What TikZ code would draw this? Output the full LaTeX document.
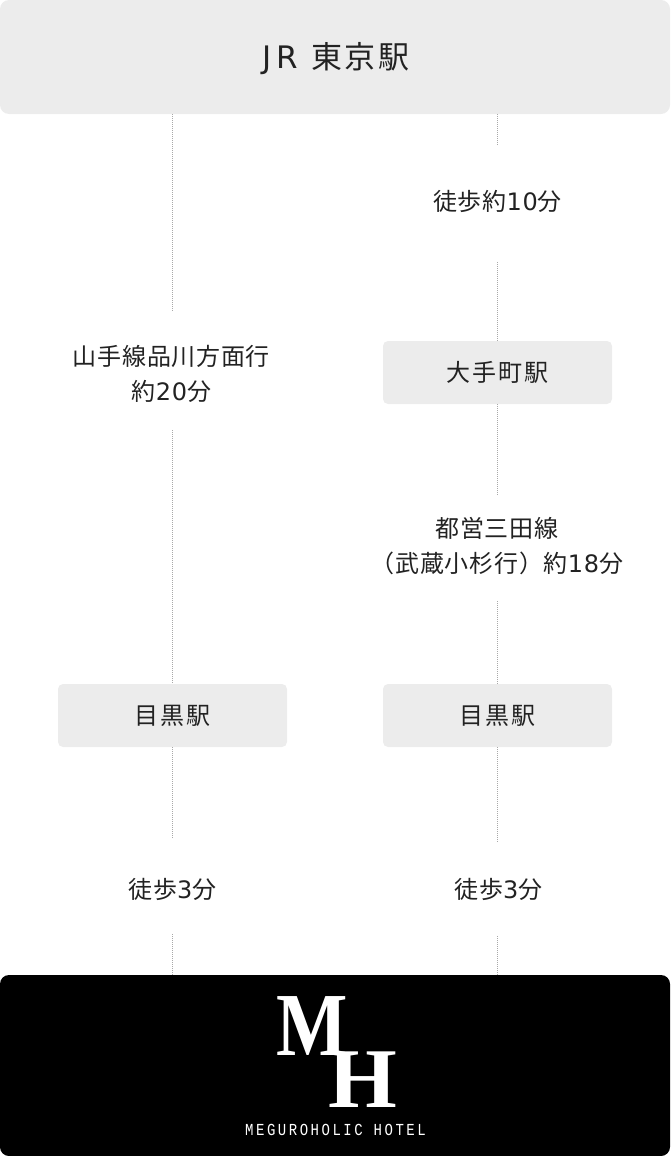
\documentclass[tikz,border=0pt]{standalone}
\usepackage{fontspec}
\setmainfont{Noto Sans CJK JP}
\newfontfamily\jpA[LetterSpace=3]{Noto Sans CJK JP}
\newfontfamily\jpB[LetterSpace=8]{Noto Sans CJK JP}
\newfontfamily\jpC[LetterSpace=9]{Noto Sans CJK JP}
\newfontfamily\latA[LetterSpace=3]{DejaVu Sans}
\newfontfamily\latB[LetterSpace=8]{DejaVu Sans}
\newfontfamily\logoserif{Liberation Serif}
\newfontfamily\logomono[LetterSpace=18]{Liberation Mono}
\definecolor{boxgray}{HTML}{ECECEC}
\definecolor{txt}{HTML}{222222}
\definecolor{dotc}{HTML}{A8A8A8}
\tikzset{
  boxs/.style={fill=boxgray,rounded corners=5pt,minimum width=229pt,minimum height=63pt,inner sep=0pt,text=txt,font=\jpB\fontsize{24pt}{30pt}\selectfont},
  lab/.style={inner sep=0pt,align=center,text=txt,font=\jpA\fontsize{24pt}{35pt}\selectfont},
  dotl/.style={draw=dotc,line width=1pt,dash pattern=on 1pt off 1pt},
}
\begin{document}
\begin{tikzpicture}[x=1pt,y=-1pt]
\useasboundingbox (0,0) rectangle (670,1156);
\fill[boxgray,rounded corners=9pt] (0,0) rectangle (670,114);
\fill[black,rounded corners=9pt] (0,975) rectangle (670,1156);
\node[inner sep=0pt,text=txt,font=\jpC\fontsize{31pt}{34pt}\selectfont] (tokyo) at (336,59) {{\latB J\hspace{5pt}R}\hspace{13pt}東京駅};
\coordinate (topL) at (172,114);
\coordinate (topR) at (497.5,114);
\coordinate (botL) at (172,975);
\coordinate (botR) at (497.5,975);
\node[lab] (walk10) at (497.5,201) {徒歩約{\latA 10}分};
\node[lab] (yama) at (171.5,373.5) {山手線品川方面行\\約{\latA 20}分};
\node[boxs] (otemachi) at (497.5,372.5) {\raisebox{-1.5pt}{大手町駅}};
\node[lab] (mita) at (497,546) {都営三田線\\（武蔵小杉行）約{\latA 18}分};
\node[boxs] (meguroL) at (172.5,715.5) {\raisebox{-1.5pt}{目黒駅}};
\node[boxs] (meguroR) at (497.5,715.5) {\raisebox{-1.5pt}{目黒駅}};
\node[lab] (walkL) at (172.5,889) {徒歩{\latA 3}分};
\node[lab] (walkR) at (498.5,889) {徒歩{\latA 3}分};
\foreach \n/\x/\y in {a1/172/312,a2/172/430,a3/172/684,a4/172/747,a5/172/838,a6/172/934,
  b1/497.5/145,b2/497.5/262,b3/497.5/341,b4/497.5/404,b5/497.5/495,b6/497.5/601,b7/497.5/684,b8/497.5/747,b9/497.5/843,b10/497.5/936}
  \coordinate (\n) at (\x,\y);
\draw[dotl] (topL) -- (a1);
\draw[dotl] (a2) -- (a3);
\draw[dotl] (a4) -- (a5);
\draw[dotl] (a6) -- (botL);
\draw[dotl] (topR) -- (b1);
\draw[dotl] (b2) -- (b3);
\draw[dotl] (b4) -- (b5);
\draw[dotl] (b6) -- (b7);
\draw[dotl] (b8) -- (b9);
\draw[dotl] (b10) -- (botR);
\node[inner sep=0pt,text=white,xscale=.84,font=\logoserif\bfseries\fontsize{90pt}{90pt}\selectfont] (logoM) at (312,1026.5) {M};
\node[inner sep=0pt,text=white,xscale=1.04,font=\logoserif\bfseries\fontsize{85pt}{85pt}\selectfont] (logoH) at (362.5,1080) {H};
\node[inner sep=0pt,text=white,yscale=1.2,font=\logomono\fontsize{14pt}{14pt}\selectfont] (logoT) at (335.5,1129.5) {MEGUROHOLIC HOTEL};
\end{tikzpicture}
\end{document}
